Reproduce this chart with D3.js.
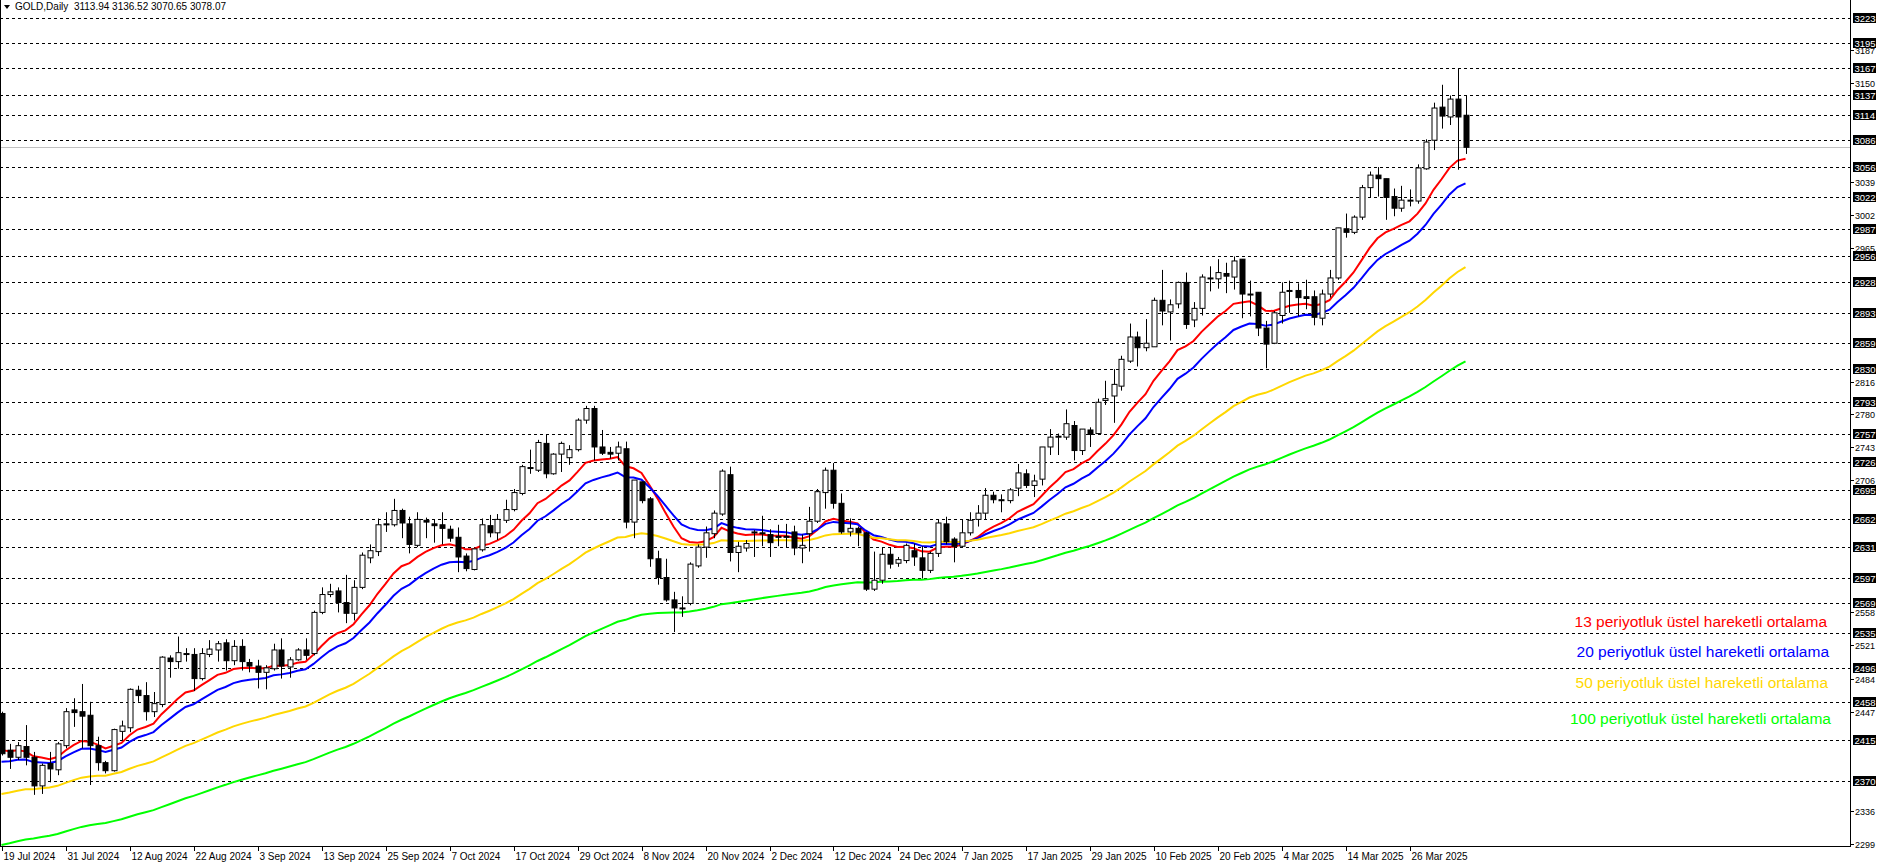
<!DOCTYPE html>
<html><head><meta charset="utf-8">
<script src="https://cdn.jsdelivr.net/npm/d3@7"></script>
<style>body{margin:0;background:#fff;overflow:hidden}svg{display:block}</style>
</head><body>
<svg id="c" width="1877" height="866"></svg>
<script>
const title = "GOLD,Daily  3113.94 3136.52 3070.65 3078.07";
// OHLC per daily bar, 19 Jul 2024 .. 4 Apr 2025
const opens  = [2445,2404,2396,2408,2396,2364,2389,2382,2409,2449,2447,2443,2409,2390,2381,2425,2429,2471,2465,2447,2455,2507,2503,2512,2511,2484,2511,2516,2524,2504,2520,
2502,2498,2491,2495,2516,2497,2505,2516,2512,2558,2578,2582,2569,2557,2586,2619,2626,2657,2656,2672,2657,2633,2661,2657,2656,2651,2642,2621,2606,2628,2655,
2647,2661,2673,2691,2720,2717,2747,2713,2735,2731,2740,2773,2786,2743,2737,2736,2741,2659,2704,2685,2618,2597,2572,2563,2568,2610,2631,2646,2668,2712,2625,
2630,2647,2647,2645,2643,2642,2648,2630,2646,2660,2692,2717,2680,2648,2652,2647,2584,2594,2623,2613,2616,2627,2619,2605,2624,2657,2640,2632,2647,2662,2669,
2689,2684,2683,2697,2713,2700,2707,2743,2754,2754,2767,2739,2762,2758,2795,2800,2811,2839,2866,2854,2855,2907,2894,2903,2927,2885,2898,2931,2931,2937,
2933,2953,2914,2916,2876,2859,2890,2917,2918,2911,2911,2887,2914,2932,2987,2983,3000,3033,3047,3043,3023,3010,3018,3018,3054,3086,3123,3112,3132,3113.94];
const highs  = [2447,2411,2413,2432,2402,2389,2402,2413,2451,2462,2478,2458,2419,2392,2428,2437,2473,2476,2480,2469,2509,2510,2531,2518,2518,2518,2527,2526,2528,2527,2528,
2506,2505,2499,2523,2529,2508,2518,2529,2560,2586,2590,2586,2600,2594,2625,2634,2663,2670,2685,2674,2665,2670,2664,2662,2670,2655,2653,2624,2629,2663,2667,
2668,2684,2696,2723,2740,2751,2757,2736,2749,2745,2775,2789,2789,2762,2743,2749,2749,2706,2704,2687,2627,2618,2581,2576,2614,2634,2654,2672,2718,2721,2637,
2639,2650,2666,2651,2656,2657,2655,2645,2676,2696,2720,2725,2691,2663,2654,2648,2626,2631,2630,2620,2635,2635,2632,2626,2662,2665,2642,2662,2670,2678,2697,
2693,2690,2697,2724,2718,2712,2743,2763,2758,2785,2772,2763,2765,2797,2817,2830,2845,2881,2872,2886,2910,2941,2908,2928,2938,2905,2936,2945,2953,2949,
2956,2953,2929,2916,2884,2895,2927,2929,2926,2930,2918,2919,2941,2988,3004,3002,3036,3051,3056,3043,3032,3035,3031,3059,3087,3128,3148,3136,3166,3136.52];
const lows   = [2398,2383,2393,2387,2354,2355,2368,2376,2406,2430,2406,2365,2381,2378,2380,2415,2424,2458,2437,2441,2452,2485,2495,2503,2470,2482,2508,2503,2493,2499,2493,
2491,2473,2472,2493,2484,2485,2504,2505,2510,2556,2575,2558,2546,2549,2584,2613,2621,2648,2654,2641,2624,2631,2641,2636,2634,2637,2603,2604,2605,2626,2642,
2639,2658,2671,2689,2713,2715,2708,2712,2715,2723,2738,2769,2728,2734,2730,2728,2652,2641,2680,2609,2589,2570,2536,2553,2566,2608,2619,2641,2666,2615,2603,
2626,2620,2632,2620,2632,2631,2622,2613,2626,2658,2674,2674,2646,2643,2632,2582,2582,2590,2607,2609,2613,2610,2596,2602,2620,2634,2614,2630,2644,2654,2662,
2680,2670,2680,2688,2697,2687,2700,2734,2734,2751,2728,2734,2743,2758,2790,2770,2806,2837,2833,2850,2855,2879,2862,2898,2875,2877,2890,2917,2920,2915,
2919,2887,2889,2867,2831,2858,2881,2893,2889,2897,2879,2879,2910,2930,2977,2981,2997,3022,3023,2997,3001,3006,3012,3015,3053,3075,3099,3103,3053,3070.65];
const closes = [2400,2396,2409,2396,2364,2387,2383,2411,2447,2446,2442,2409,2390,2381,2427,2431,2472,2465,2447,2456,2508,2503,2513,2512,2484,2512,2517,2523,2504,2520,2503,
2498,2491,2496,2516,2498,2505,2516,2510,2558,2578,2581,2569,2557,2586,2622,2627,2656,2656,2672,2658,2634,2662,2659,2655,2652,2641,2620,2607,2629,2656,2647,
2662,2673,2692,2721,2719,2748,2713,2735,2747,2740,2773,2786,2743,2736,2735,2743,2659,2706,2683,2618,2597,2572,2563,2562,2612,2631,2647,2669,2716,2625,2632,
2635,2648,2646,2636,2643,2643,2630,2633,2660,2693,2717,2680,2648,2652,2647,2584,2594,2623,2612,2617,2633,2620,2605,2624,2658,2637,2632,2647,2661,2669,2689,
2684,2683,2695,2714,2700,2705,2743,2754,2755,2769,2739,2763,2757,2793,2797,2813,2841,2866,2854,2859,2907,2895,2902,2927,2880,2898,2933,2932,2938,2934,
2951,2914,2914,2876,2858,2893,2916,2918,2910,2909,2888,2914,2932,2988,2983,3000,3033,3047,3043,3022,3010,3019,3019,3055,3084,3122,3113,3132,3112,3078.07];
// EMA starting values read at the first bar
const emaPeriods = [13,20,50,100];
const emaSeeds = [2404,2391,2355,2298];
const emaColors = ["#ff0000","#0000ff","#ffd700","#00ff00"];
const legendTexts = ["13 periyotluk üstel hareketli ortalama","20 periyotluk üstel hareketli ortalama","50 periyotluk üstel hareketli ortalama","100 periyotluk üstel hareketli ortalama"];
const levelLines = [3223,3195,3167,3137,3114,3086,3056,3022,2987,2956,2928,2893,2859,2830,2793,2757,2726,2695,2662,2631,2597,2569,2535,2496,2458,2415,2370];
const plainTicks = [3187,3150,3039,3002,2965,2816,2780,2743,2706,2558,2521,2484,2447,2336,2299];
const currentPrice = 3078.07;
const dateLabels = ["19 Jul 2024","31 Jul 2024","12 Aug 2024","22 Aug 2024","3 Sep 2024","13 Sep 2024","25 Sep 2024","7 Oct 2024","17 Oct 2024","29 Oct 2024","8 Nov 2024","20 Nov 2024","2 Dec 2024","12 Dec 2024","24 Dec 2024","7 Jan 2025","17 Jan 2025","29 Jan 2025","10 Feb 2025","20 Feb 2025","4 Mar 2025","14 Mar 2025","26 Mar 2025"];
const dateLabelEvery = 8;

const svg = d3.select("#c");
const W = 1850, H = 846;
const n = closes.length;
const x = d3.scaleLinear().domain([0, n-1]).range([1.5, 1.5 + 8*(n-1)]);
const y = d3.scaleLinear().domain([2296.8, 3242.8]).range([H, 0]);
const F = "'Liberation Sans', Arial, sans-serif";

svg.append("g").selectAll("line").data(levelLines).join("line")
  .attr("x1",0).attr("x2",W).attr("y1",d=>Math.round(y(d))+0.5).attr("y2",d=>Math.round(y(d))+0.5)
  .attr("stroke","#000").attr("stroke-dasharray","3,3").attr("stroke-width",1);
svg.append("line").attr("x1",0).attr("x2",W).attr("y1",Math.round(y(currentPrice))+0.5).attr("y2",Math.round(y(currentPrice))+0.5)
  .attr("stroke","#c0c0c0");

emaPeriods.forEach((p,k)=>{
  const a = 2/(p+1); let e = emaSeeds[k]; const vals=[];
  closes.forEach((c,i)=>{ if(i>0) e = e + a*(c-e); vals.push(e); });
  svg.append("path").datum(vals).attr("fill","none").attr("stroke",emaColors[k]).attr("stroke-width",2)
    .attr("d", d3.line().x((d,i)=>x(i)).y(d=>y(d)));
});

const g = svg.append("g");
closes.forEach((c,i)=>{
  const cx = Math.round(x(i))+0.5;
  g.append("line").attr("x1",cx).attr("x2",cx).attr("y1",y(highs[i])).attr("y2",y(lows[i])).attr("stroke","#000");
  const top = y(Math.max(opens[i],c)), bot = y(Math.min(opens[i],c));
  g.append("rect").attr("x",cx-2.5).attr("y",top).attr("width",5).attr("height",Math.max(1,bot-top))
    .attr("fill", c>=opens[i] ? "#fff" : "#000").attr("stroke","#000").attr("stroke-width",1);
});

svg.append("line").attr("x1",0.5).attr("x2",0.5).attr("y1",0).attr("y2",H).attr("stroke","#000");
svg.append("line").attr("x1",W+0.5).attr("x2",W+0.5).attr("y1",0).attr("y2",H+1).attr("stroke","#000");
svg.append("line").attr("x1",0).attr("x2",W+1).attr("y1",H+0.5).attr("y2",H+0.5).attr("stroke","#000");

const pt = svg.append("g");
plainTicks.forEach(v=>{
  const yy = Math.round(y(v))+0.5;
  pt.append("line").attr("x1",W).attr("x2",W+4).attr("y1",yy).attr("y2",yy).attr("stroke","#000");
  pt.append("text").attr("x",W+5).attr("y",yy+3.5).attr("font-family",F).attr("font-size",9).text(v);
});
levelLines.forEach(v=>{
  const yy = Math.round(y(v));
  svg.append("rect").attr("x",W+3).attr("y",yy-5).attr("width",23).attr("height",10).attr("fill","#000");
  svg.append("text").attr("x",W+4.5).attr("y",yy+3.5).attr("font-family",F).attr("font-size",9.5).attr("fill","#fff").text(v);
});

dateLabels.forEach((t,k)=>{
  const xx = Math.round(x(k*dateLabelEvery))+0.5;
  svg.append("line").attr("x1",xx).attr("x2",xx).attr("y1",H).attr("y2",H+5).attr("stroke","#000");
  svg.append("text").attr("x",xx+1).attr("y",H+14).attr("font-family",F).attr("font-size",10).text(t);
});

svg.append("path").attr("d","M4,5 L10,5 L7,9 Z").attr("fill","#000");
svg.append("text").attr("x",15).attr("y",10).attr("font-family",F).attr("font-size",10).attr("xml:space","preserve").text(title);

const legY = [622,652,683,719], legX=[1827,1829,1828,1831];
legendTexts.forEach((t,k)=>{
  svg.append("text").attr("x",legX[k]).attr("y",legY[k]+5).attr("text-anchor","end")
   .attr("font-family",F).attr("font-size",15.5).attr("fill",emaColors[k]).text(t);
});
</script>
</body></html>
